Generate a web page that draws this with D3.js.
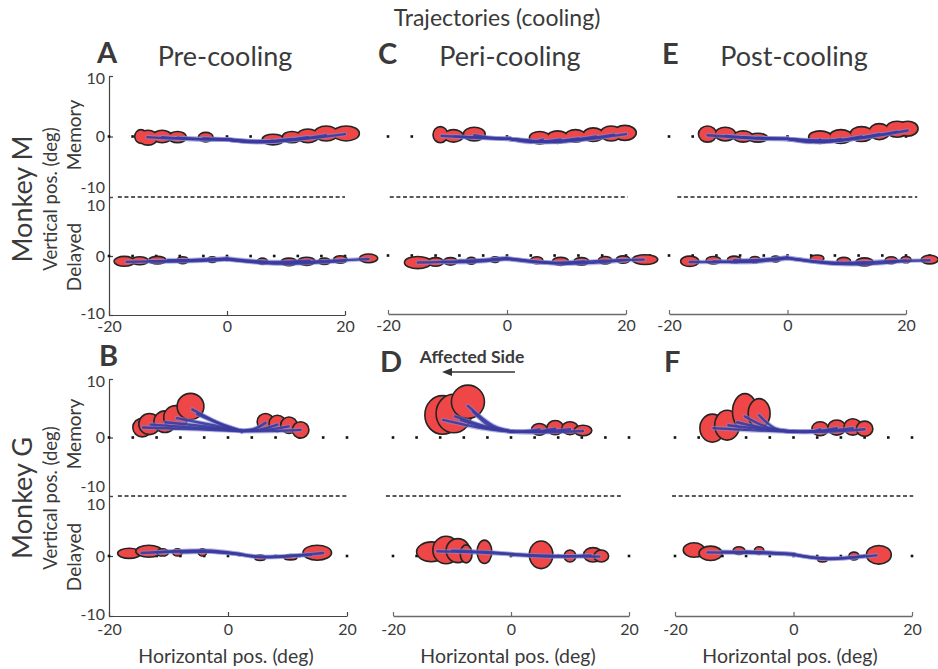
<!DOCTYPE html>
<html><head><meta charset="utf-8">
<script src="https://cdn.jsdelivr.net/npm/d3@7"></script>
<style>
body{margin:0;background:#fff}
svg{display:block}
text{font-family:Lato,"Open Sans",sans-serif;fill:#3a3a3a}
</style>
</head><body>
<script>
// ---------------- DATA (degrees) ----------------
const xTicks = [-20, 0, 20];
const yTicks = [10, 0, -10];
const memTargets = [-20,-16,-12,-8,-4,0,4,8,12,16,20];
const delTargetsM = [-20,-16,-12,-8,-4,0,4,8,12,16,20,24];
const delTargetsG = [-20,-16,-12,-8,-4,0,4,8,12,16,20];

// blobs: [x, y, rx, ry]   paths: list of [x, y] points
const blobsA_mem = [[-14.6,0.0,0.9,1.0],[-13.4,-0.2,1.5,1.1],[-11.0,0.0,1.5,0.9],[-8.4,-0.1,1.4,0.8],[-3.6,-0.1,1.1,0.65],
  [7.8,-0.5,1.7,0.75],[11.0,-0.1,1.5,0.8],[13.7,0.1,1.7,1.0],[16.8,0.5,1.9,1.1],[20.2,0.5,2.1,1.1]];
const pathsA_mem = [[[0,-0.5],[-4,-0.3]],[[0,-0.5],[-5,-0.4],[-8.4,-0.2]],[[0,-0.5],[-6,-0.4],[-11,-0.1]],
  [[0,-0.5],[-7,-0.4],[-13.5,-0.1]],[[0,-0.5],[4,-0.9],[7.8,-0.7]],[[0,-0.5],[5,-0.9],[11,-0.4]],
  [[0,-0.5],[6,-0.9],[13.7,-0.1]],[[0,-0.5],[7,-0.9],[16.8,0.2]],[[0,-0.5],[8,-0.8],[20,0.4]]];
const blobsA_del = [[-17.4,-0.9,1.6,0.7],[-14.8,-0.8,1.3,0.55],[-11.8,-0.7,1.3,0.5],[-7.5,-0.7,0.8,0.45],[-2.5,-0.6,0.6,0.35],
  [6.0,-0.9,0.7,0.4],[10.5,-1.0,1.2,0.5],[13.5,-0.9,1.3,0.55],[16.5,-0.9,0.8,0.4],[19.2,-0.6,1.0,0.5],[24.0,-0.4,1.4,0.6]];
const pathsA_del = [[[0,-0.5],[-8,-0.8],[-17,-1.0]],[[0,-0.6],[-7,-0.9],[-13,-0.9]],[[0,-0.4],[-6,-0.7],[-10,-0.7]],
  [[0,-0.5],[8,-1.2],[16,-0.9],[24,-0.5]],[[0,-0.6],[9,-1.3],[20,-0.8]],[[0,-0.4],[7,-1.0],[14,-0.8]]];

const blobsC_mem = [[-11.2,0.3,1.1,1.2],[-9.0,0.1,1.5,0.9],[-5.5,0.4,1.7,1.0],[5.5,-0.2,1.6,0.9],
  [8.5,-0.1,1.6,0.9],[11.5,0.1,1.6,0.9],[14.5,0.3,1.6,1.0],[17.5,0.5,1.7,1.1],[19.8,0.6,1.8,1.1]];
const pathsC_mem = [[[0.5,-0.4],[-3,-0.2],[-5.5,0.2]],[[0.5,-0.4],[-4,-0.2],[-8.8,0]],[[0.5,-0.4],[-5,-0.2],[-11,0.1]],
  [[0.5,-0.4],[4,-0.9],[6,-0.5]],[[0.5,-0.4],[5,-0.9],[9,-0.5]],[[0.5,-0.4],[6,-0.9],[12,-0.3]],
  [[0.5,-0.4],[7,-0.9],[15,0]],[[0.5,-0.4],[8,-0.9],[18,0.3]],[[0.5,-0.4],[9,-0.8],[20,0.4]]];
const blobsC_del = [[-15.0,-1.2,2.1,0.9],[-12.0,-1.1,1.2,0.6],[-9.5,-1.0,1.0,0.5],[-6.0,-0.9,0.7,0.45],[-2.0,-0.7,0.6,0.35],
  [5.0,-0.8,0.9,0.45],[9.0,-1.0,1.2,0.55],[12.5,-1.0,1.1,0.5],[16.5,-0.8,1.0,0.5],[19.5,-0.7,1.0,0.5],[23.2,-0.7,2.0,0.7]];
const pathsC_del = [[[0,-0.5],[-8,-1.0],[-15,-1.2]],[[0,-0.6],[-6,-1.1],[-11,-1.1]],[[0,-0.4],[-5,-0.9],[-8,-0.9]],
  [[0,-0.5],[8,-1.3],[16,-0.9],[23,-0.7]],[[0,-0.6],[10,-1.4],[20,-0.8]],[[0,-0.5],[7,-1.2],[13,-1.0]]];

const blobsE_mem = [[-13.5,0.4,1.4,1.2],[-10.5,0.4,1.6,1.0],[-7.5,0.0,1.5,0.8],[-5.0,-0.2,1.5,0.6],
  [5.5,-0.1,1.8,0.9],[9.0,0.0,1.8,1.0],[12.5,0.4,1.8,1.1],[15.5,0.8,1.6,1.2],[18.5,1.2,1.8,1.2],[20.3,1.3,1.6,1.1]];
const pathsE_mem = [[[0,-0.4],[-3,-0.3],[-5,-0.2]],[[0,-0.4],[-4,-0.3],[-7.5,-0.1]],[[0,-0.4],[-5,-0.3],[-10.5,0.1]],
  [[0,-0.4],[-6,-0.3],[-13.5,0.2]],[[0,-0.4],[4,-0.9],[5.5,-0.5]],[[0,-0.4],[5,-0.9],[9,-0.4]],
  [[0,-0.4],[6,-0.9],[12.5,0]],[[0,-0.4],[7,-0.8],[15.5,0.4]],[[0,-0.4],[8,-0.7],[18.5,0.8]],[[0,-0.4],[9,-0.6],[20.3,1.0]]];
const blobsE_del = [[-16.5,-1.0,1.4,0.75],[-12.5,-0.8,1.1,0.5],[-9.0,-0.7,1.0,0.45],[-5.5,-0.7,0.7,0.4],[-2.0,-0.6,0.6,0.35],
  [5.0,-0.5,1.0,0.45],[9.5,-0.9,1.0,0.45],[13.0,-1.1,1.3,0.55],[17.5,-0.8,0.9,0.45],[20.0,-0.7,0.7,0.4],[24.0,-0.7,1.3,0.6]];
const pathsE_del = [[[0,-0.4],[-8,-1.0],[-16.5,-1.1]],[[0,-0.5],[-6,-1.1],[-12.5,-1.0]],[[0,-0.3],[-5,-0.8],[-9,-0.8]],
  [[0,-0.4],[8,-1.4],[16,-1.0],[24,-0.8]],[[0,-0.5],[11,-1.5],[20,-0.9]],[[0,-0.4],[7,-1.2],[13,-1.2]]];

const blobsB_mem = [[-14.4,1.7,1.6,1.6],[-13.2,2.3,1.8,1.8],[-10.6,2.7,1.85,1.85],[-8.8,3.45,2.0,2.0],[-6.3,5.3,2.25,2.25],
  [6.3,2.7,1.4,1.4],[8.3,2.4,1.4,1.4],[10.25,2.1,1.4,1.4],[12.2,1.3,1.4,1.4]];
const pathsB_mem = [[[2.3,1.1],[-1,2.2],[-6,4.8]],[[2.3,1.1],[-1.5,2.4],[-5.2,4.0]],[[2.3,1.1],[-2,2.0],[-8.6,3.3]],
  [[2.3,1.1],[-3,1.8],[-10.5,2.6]],[[2.3,1.1],[-4,1.6],[-13,2.2]],[[2.3,1.1],[-5,1.4],[-14.3,1.7]],
  [[2.3,1.1],[4.5,1.5],[6.3,2.5]],[[2.3,1.1],[5.5,1.4],[8.3,2.2]],[[2.3,1.1],[6.5,1.3],[10.2,1.9]],[[2.3,1.1],[7.5,1.1],[12.2,1.3]]];
const blobsB_del = [[-16.6,0.45,1.95,0.85],[-13.3,0.8,2.2,1.0],[-11.0,0.6,1.0,0.6],[-8.5,0.6,0.8,0.6],[-4.3,0.6,0.7,0.6],
  [5.4,-0.3,0.9,0.45],[10.5,-0.2,1.1,0.45],[15.0,0.55,2.4,1.25]];
const pathsB_del = [[[2,0.3],[-3,0.9],[-14.5,0.5]],[[2,0.3],[-4,0.8],[-12,0.6]],[[2,0.3],[-3,0.7],[-8,0.6]],
  [[2,0.3],[5,-0.1],[14,0.2]],[[2,0.3],[6,-0.2],[16,0.5]]];

const blobsD_mem = [[-11.6,3.85,3.0,3.3],[-9.7,4.1,3.0,3.3],[-7.3,6.1,2.8,2.85],
  [4.8,1.4,1.3,1.0],[7.5,1.7,1.4,1.2],[10.0,1.6,1.4,1.1],[12.2,1.2,1.5,0.9]];
const pathsD_mem = [[[0.3,1.0],[-3,2.0],[-7.3,5.4]],[[0.3,1.0],[-3.5,1.9],[-6.5,4.5]],[[0.3,1.0],[-4,1.8],[-9.5,3.6]],
  [[0.3,1.0],[-4.5,1.7],[-8.5,3.0]],[[0.3,1.0],[-5,1.6],[-11.5,3.0]],[[0.3,1.0],[3,1.1],[4.8,1.4]],[[0.3,1.0],[4,1.0],[7.5,1.5]],
  [[0.3,1.0],[5,1.0],[10,1.4]],[[0.3,1.0],[6,0.9],[12.2,1.1]]];
const blobsD_del = [[-13.5,0.7,2.5,1.65],[-11.0,1.0,2.25,2.3],[-9.0,0.9,2.0,2.0],[-7.6,0.35,1.0,1.5],
  [-4.5,0.7,1.25,1.95],[5.1,0.2,2.0,2.3],[10.0,0.0,1.0,1.0],[13.9,0.2,1.6,1.2],[15.3,0.0,1.25,1.0]];
const pathsD_del = [[[0.3,0.3],[-6,0.6],[-12.5,0.8]],[[0.3,0.3],[-5,0.7],[-10,0.9]],
  [[0.3,0.3],[8,0],[15,-0.1]],[[0.3,0.2],[7,-0.1],[13.5,0.1]]];

const blobsF_mem = [[-13.7,1.6,2.1,2.4],[-11.2,2.1,2.1,2.55],[-8.2,4.4,2.1,3.1],[-5.8,4.1,1.85,2.55],
  [4.5,1.5,1.4,1.2],[7.3,1.7,1.5,1.3],[10.0,1.8,1.5,1.4],[12.0,1.5,1.4,1.3]];
const pathsF_mem = [[[0.1,1.0],[-3,1.5],[-5.8,3.8]],[[0.1,1.0],[-4,1.6],[-8.2,3.6]],[[0.1,1.0],[-4.5,1.5],[-9.5,2.6]],
  [[0.1,1.0],[-5,1.4],[-11,2.1]],[[0.1,1.0],[-6,1.2],[-13.5,1.6]],[[0.1,1.0],[3,1.0],[4.5,1.4]],[[0.1,1.0],[4,1.1],[7.3,1.6]],
  [[0.1,1.0],[5,1.1],[10,1.6]],[[0.1,1.0],[6,1.0],[12,1.4]]];
const blobsF_del = [[-16.8,1.0,1.8,1.2],[-14.0,0.45,1.95,1.2],[-9.2,0.9,1.0,0.65],[-5.8,0.9,0.8,0.65],
  [4.9,-0.6,0.8,0.4],[10.2,0.0,0.85,0.65],[14.4,0.2,2.1,1.55]];
const pathsF_del = [[[0,0.3],[-6,0.5],[-14.5,0.6]],[[0,0.3],[-5,0.6],[-12,0.7]],[[0,0.3],[-4,0.5],[-8,0.7]],
  [[0,0.3],[5,-0.4],[14,0.1]],[[0,0.2],[6,-0.5],[12,0]]];

// ---------------- LAYOUT ----------------
const W = 938, H = 669;
const svg = d3.select("body").append("svg").attr("width", W).attr("height", H);

const panels = [
  {id:"A", x0:109, x1:345, top:76,  mid:197, bot:315, dash:[-18.5,20],   yAxis:true,  union:true,
   mem:[blobsA_mem,pathsA_mem,memTargets], del:[blobsA_del,pathsA_del,delTargetsM]},
  {id:"C", x0:388, x1:626, top:76,  mid:197, bot:314, dash:[-19.7,20.3], yAxis:false, union:true,
   mem:[blobsC_mem,pathsC_mem,memTargets], del:[blobsC_del,pathsC_del,delTargetsM]},
  {id:"E", x0:669, x1:906, top:76,  mid:197, bot:314, dash:[-18.6,21.9], yAxis:false, union:true,
   mem:[blobsE_mem,pathsE_mem,memTargets], del:[blobsE_del,pathsE_del,delTargetsM]},
  {id:"B", x0:109, x1:347, top:379, mid:496, bot:616, dash:[-18.5,20],   yAxis:true,  union:false,
   mem:[blobsB_mem,pathsB_mem,memTargets], del:[blobsB_del,pathsB_del,delTargetsG]},
  {id:"D", x0:393, x1:629, top:379, mid:496, bot:616, dash:[-21.2,19],   yAxis:false, union:false,
   mem:[blobsD_mem,pathsD_mem,memTargets], del:[blobsD_del,pathsD_del,delTargetsG]},
  {id:"F", x0:675, x1:912, top:379, mid:496, bot:616, dash:[-20.5,20.2], yAxis:false, union:false,
   mem:[blobsF_mem,pathsF_mem,memTargets], del:[blobsF_del,pathsF_del,delTargetsG]},
];

function drawSub(g, x, y, spec, union) {
  const [blobs, paths, targets] = spec;
  g.append("g").selectAll("rect").data(targets).join("rect")
    .attr("x", d => x(d) - 1.3).attr("y", y(0) - 1.3)
    .attr("width", 2.6).attr("height", 2.6).attr("fill", "#111");
  const cx = d => x(d[0]), cy = d => y(d[1]);
  const rx = d => x(d[2]) - x(0), ry = d => y(0) - y(d[3]);
  if (union) {
    g.append("g").selectAll("ellipse").data(blobs).join("ellipse")
      .attr("cx", cx).attr("cy", cy).attr("rx", rx).attr("ry", ry)
      .attr("fill", "#242424").attr("stroke", "#242424").attr("stroke-width", 3.2);
    g.append("g").selectAll("ellipse").data(blobs).join("ellipse")
      .attr("cx", cx).attr("cy", cy).attr("rx", rx).attr("ry", ry)
      .attr("fill", "#ef4747");
  } else {
    g.append("g").selectAll("ellipse").data(blobs).join("ellipse")
      .attr("cx", cx).attr("cy", cy).attr("rx", rx).attr("ry", ry)
      .attr("fill", "#ef4747").attr("stroke", "#242424").attr("stroke-width", 1.6);
  }
  const line = d3.line().x(d => x(d[0])).y(d => y(d[1])).curve(d3.curveCatmullRom.alpha(0.5));
  g.append("g").selectAll("path").data(paths).join("path")
    .attr("d", line).attr("fill", "none").attr("stroke", "#8a8ad2")
    .attr("stroke-width", 4.6).attr("stroke-opacity", 0.55).attr("stroke-linecap", "round");
  g.append("g").selectAll("path").data(paths).join("path")
    .attr("d", line).attr("fill", "none").attr("stroke", "#3b3ba0")
    .attr("stroke-width", 2.4).attr("stroke-opacity", 0.9).attr("stroke-linecap", "round");
}

panels.forEach(p => {
  const g = svg.append("g");
  const x = d3.scaleLinear([-20, 20], [p.x0, p.x1]);
  const yMem = d3.scaleLinear([-10, 10], [p.mid, p.top]);
  const yDel = d3.scaleLinear([-10, 10], [p.bot, p.mid]);

  g.append("line").attr("x1", x(p.dash[0])).attr("x2", x(p.dash[1]))
    .attr("y1", p.mid).attr("y2", p.mid)
    .attr("stroke", "#222").attr("stroke-width", 1.3).attr("stroke-dasharray", "4,2.6");

  const xa = g.append("g").attr("transform", `translate(0,${p.bot})`)
    .call(d3.axisBottom(x).tickValues(xTicks).tickFormat(d => String(d))
      .tickSizeInner(-4).tickSizeOuter(0).tickPadding(p.top > 300 ? 8 : 6));
  const axc = p.yAxis ? "#444" : "#6a6a6a";
  xa.select(".domain").attr("stroke", axc).attr("stroke-width", p.yAxis ? 1.2 : 1.5);
  xa.selectAll(".tick line").attr("stroke", axc).attr("stroke-width", 1.2);
  xa.selectAll("text").attr("font-size", 16).attr("fill", "#333").attr("font-family", "Lato");

  if (p.yAxis) {
    [[yMem, "mem"], [yDel, "del"]].forEach(([ys, k]) => {
      const ya = g.append("g").attr("transform", `translate(${p.x0},0)`)
        .call(d3.axisLeft(ys).tickValues(yTicks).tickFormat(d => String(d))
          .tickSizeInner(-4).tickSizeOuter(0).tickPadding(4));
      ya.select(".domain").attr("stroke", "#444").attr("stroke-width", 1.2);
      ya.selectAll(".tick line").attr("stroke", "#444").attr("stroke-width", 1.2);
      ya.selectAll("text").attr("font-size", 16).attr("fill", "#333").attr("font-family", "Lato")
        .attr("dy", d => (k === "mem" && d === -10) ? "-0.26em" : (k === "del" && d === 10) ? "0.86em"
                       : (k === "del" && d === -10) ? "0.2em" : (k === "mem" && d === 10) ? "0.45em" : "0.32em");
    });
  }

  drawSub(g, x, yMem, p.mem, p.union);
  drawSub(g, x, yDel, p.del, p.union);
});

// ---------------- TEXT ----------------
svg.append("text").attr("x", 497).attr("y", 26).attr("text-anchor", "middle")
  .attr("font-size", 23).attr("fill", "#444").text("Trajectories (cooling)");

const colTitles = [["Pre-cooling", 225], ["Peri-cooling", 510], ["Post-cooling", 794]];
colTitles.forEach(([t, cx]) => svg.append("text").attr("x", cx).attr("y", 66)
  .attr("text-anchor", "middle").attr("font-size", 27).attr("fill", "#333").text(t));

const letters = [["A", 97, 63], ["C", 378, 64], ["E", 662, 64], ["B", 99, 366], ["D", 380, 372], ["F", 664, 372]];
letters.forEach(([t, lx, ly]) => svg.append("text").attr("x", lx).attr("y", ly)
  .attr("font-size", 29).attr("font-weight", 700).attr("fill", "#2e2e2e").text(t));

function vtext(t, x, y, size) {
  svg.append("text").attr("transform", `translate(${x},${y}) rotate(-90)`)
    .attr("text-anchor", "middle").attr("font-size", size).attr("fill", "#333").text(t);
}
[["Monkey M", 199, 257, 135], ["Monkey G", 498, 557, 434]].forEach(([m, c, dc, mc]) => {
  vtext(m, 32, c, 27);
  vtext("Vertical pos. (deg)", 57, c, 18.5);
  vtext("Memory", 81, mc, 19);
  vtext("Delayed", 81, dc, 19);
});

[[226, 663], [508, 663], [790, 663]].forEach(([cx, cy]) =>
  svg.append("text").attr("x", cx).attr("y", cy).attr("text-anchor", "middle")
    .attr("font-size", 19.5).attr("fill", "#333").text("Horizontal pos. (deg)"));

svg.append("text").attr("x", 472).attr("y", 363).attr("text-anchor", "middle")
  .attr("font-size", 17.5).attr("font-weight", 700).attr("fill", "#333").text("Affected Side");
svg.append("line").attr("x1", 515).attr("x2", 450).attr("y1", 372).attr("y2", 372)
  .attr("stroke", "#333").attr("stroke-width", 1.5);
svg.append("path").attr("d", "M442,372 L452,368 L452,376 Z").attr("fill", "#333");
</script>
</body></html>
